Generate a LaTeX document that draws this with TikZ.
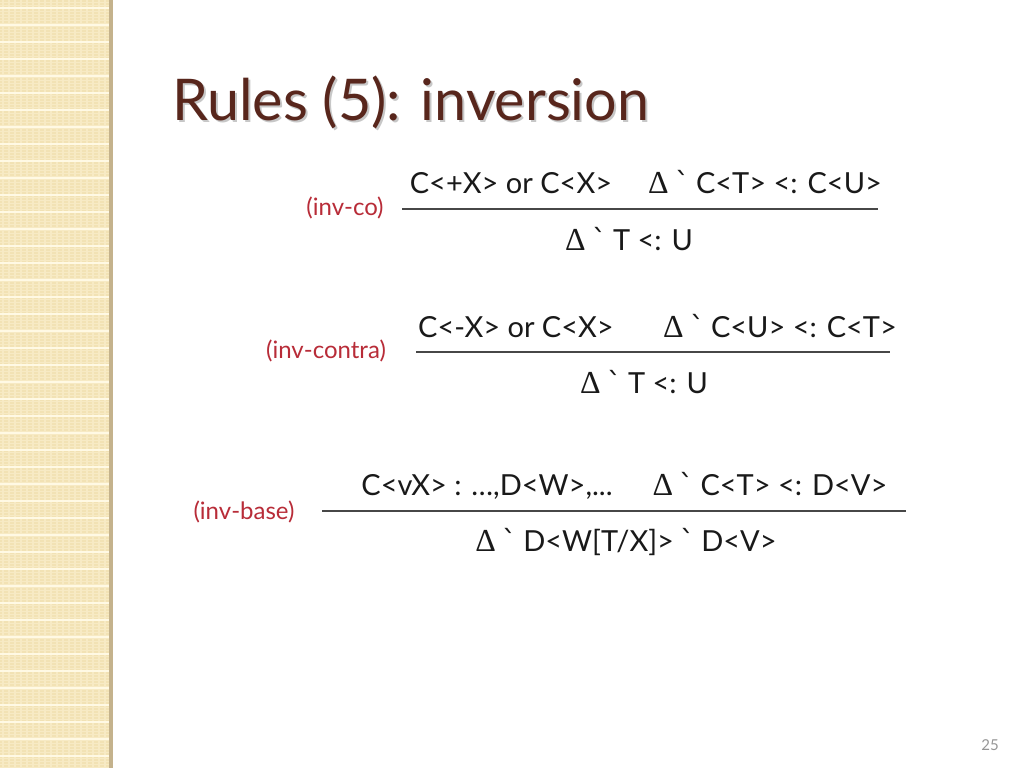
\documentclass[tikz,border=0pt]{standalone}
\usepackage{fontspec}
\setmainfont{Lato}
\newfontfamily\symf{Liberation Serif}
\newfontfamily\gravef{DejaVu Sans}
\definecolor{stripbg}{RGB}{242,226,180}
\definecolor{stripcell}{RGB}{247,234,196}
\definecolor{stripline}{RGB}{255,249,228}
\definecolor{stripborder}{RGB}{196,178,140}
\definecolor{titlecol}{RGB}{88,38,28}
\definecolor{labelcol}{RGB}{184,44,56}
\definecolor{textcol}{RGB}{25,25,25}
\definecolor{pagecol}{RGB}{150,150,150}
\tikzset{
  x=1pt, y=-1pt,
  formula/.style={text=textcol, inner sep=0pt, anchor=base, font=\fontsize{29}{34}\selectfont},
  rulelabel/.style={text=labelcol, inner sep=0pt, anchor=center, font=\fontsize{24}{28}\selectfont},
  rulebar/.style={draw=textcol!80, line width=1.1pt},
}
\newcommand{\Dl}{{\symf\fontsize{32}{34}\selectfont\char"0394}}
\newcommand{\Gr}{{\gravef\kern-1pt\char"02CB\kern-1pt}}
\begin{document}
\begin{tikzpicture}
\useasboundingbox (0,0) rectangle (1024,768);
\fill[white] (0,0) rectangle (1024,768);
% left decorative strip
\fill[stripbg] (0,0) rectangle (109,768);
\foreach \x in {3,9,...,105} \draw[stripcell, line width=1.6pt] (\x,0) -- (\x,768);
\foreach \y in {2,5,...,768} \draw[stripcell, line width=0.8pt] (0,\y) -- (109,\y);
\foreach \y in {8,25,...,768} \draw[stripline, line width=1.8pt] (0,\y) -- (109,\y);
\fill[stripborder] (109,0) rectangle (113,768);
% title
\node[text=black!22, inner sep=0pt, anchor=base west, font=\fontsize{57.5}{64}\selectfont] (titleshadow) at (174,122) {Rules (5): inversion};
\node[text=titlecol, inner sep=0pt, anchor=base west, font=\fontsize{57.5}{64}\selectfont] (title) at (172,120) {Rules (5): inversion};
% rule 1: inv-co
\node[rulelabel] (l1) at (345,208) {(inv-co)};
\node[formula] (p1a) at (511,193) {C<+X> or C<X>};
\node[formula] (p1b) at (765,193) {\Dl\ \Gr\ C<T> <: C<U>};
\node[formula] (c1) at (629,250) {\Dl\ \Gr\ T <: U};
\coordinate (b1s) at (402,209);
\coordinate (b1e) at (878,209);
\draw[rulebar] (b1s) -- (b1e);
% rule 2: inv-contra
\node[rulelabel] (l2) at (326,351) {(inv-contra)};
\node[formula] (p2a) at (516,337) {C<-X> or C<X>};
\node[formula] (p2b) at (780,337) {\Dl\ \Gr\ C<U> <: C<T>};
\node[formula] (c2) at (644,393) {\Dl\ \Gr\ T <: U};
\coordinate (b2s) at (416,352);
\coordinate (b2e) at (890,352);
\draw[rulebar] (b2s) -- (b2e);
% rule 3: inv-base
\node[rulelabel] (l3) at (244,512) {(inv-base)};
\node[formula] (p3a) at (487,495) {C<vX> : \dots,D<W>,...};
\node[formula] (p3b) at (770,495) {\Dl\ \Gr\ C<T> <: D<V>};
\node[formula] (c3) at (626,551) {\Dl\ \Gr\ D<W[T/X]> \Gr\ D<V>};
\coordinate (b3s) at (322,511);
\coordinate (b3e) at (906,511);
\draw[rulebar] (b3s) -- (b3e);
% page number
\node[text=pagecol, inner sep=0pt, anchor=base east, font=\fontsize{15}{18}\selectfont] (pagenum) at (999,750) {25};
\end{tikzpicture}
\end{document}
